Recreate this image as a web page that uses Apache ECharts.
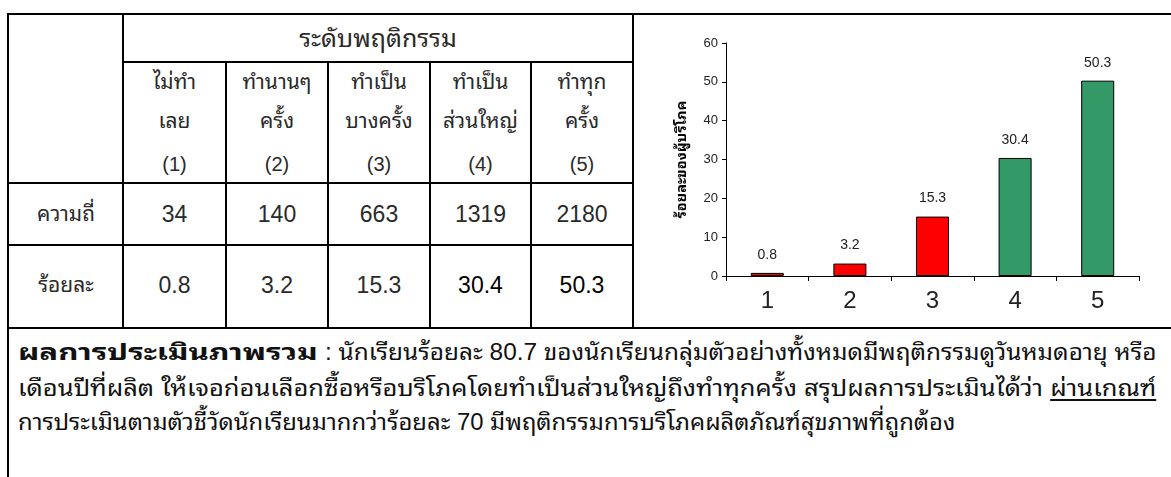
<!DOCTYPE html>
<html>
<head>
<meta charset="utf-8">
<script src="https://cdn.jsdelivr.net/npm/echarts@6/dist/echarts.min.js"></script>
<style>
  html, body { margin:0; padding:0; background:#fff; }
  body { width:1171px; height:477px; position:relative; overflow:hidden;
         font-family: "Liberation Sans", Arial, "Noto Sans Thai Looped", "Noto Serif Thai", Loma, Garuda, Sarabun, "Noto Sans Thai", "Noto Sans", sans-serif; color:#2a2a2a; }
  .ln { position:absolute; background:#000; }
  .t { position:absolute; transform:translate(-50%,-50%); white-space:nowrap; font-size:20px; line-height:1; font-weight:normal; }
  #chart { position:absolute; left:634px; top:16px; width:537px; height:312px; }
  .pl { position:absolute; white-space:nowrap; font-size:23px; line-height:1; color:#111; transform-origin:0 50%; }
  .pl u { text-decoration:underline; text-underline-offset:3px; }
</style>
</head>
<body>
<div id="chart"></div>
<script>
// ---- data ----
const categories = ["1", "2", "3", "4", "5"];
const headerTitle = "ระดับพฤติกรรม";
const levelLabels = [["ไม่ทำ","เลย","(1)"],["ทำนานๆ","ครั้ง","(2)"],["ทำเป็น","บางครั้ง","(3)"],["ทำเป็น","ส่วนใหญ่","(4)"],["ทำทุก","ครั้ง","(5)"]];
const rowLabels = ["ความถี่", "ร้อยละ"];
const frequency = [34, 140, 663, 1319, 2180];
const percent = [0.8, 3.2, 15.3, 30.4, 50.3];
const barColors = ["#FF0000", "#FF0000", "#FF0000", "#339966", "#339966"];
const yTicks = [0, 10, 20, 30, 40, 50, 60];
const yAxisName = "ร้อยละของผู้บริโภค";
const summaryBold = "ผลการประเมินภาพรวม";
const summaryLine1 = ": นักเรียนร้อยละ 80.7 ของนักเรียนกลุ่มตัวอย่างทั้งหมดมีพฤติกรรมดูวันหมดอายุ หรือ";
const summaryLine2 = "เดือนปีที่ผลิต ให้เจอก่อนเลือกซื้อหรือบริโภคโดยทำเป็นส่วนใหญ่ถึงทำทุกครั้ง สรุปผลการประเมินได้ว่า ";
const summaryUnder = "ผ่านเกณฑ์";
const summaryLine3 = "การประเมินตามตัวชี้วัดนักเรียนมากกว่าร้อยละ 70 มีพฤติกรรมการบริโภคผลิตภัณฑ์สุขภาพที่ถูกต้อง";

// ---- table ----
const colX = [8, 123, 226, 328, 430, 531, 633];
function line(x, y, w, h) {
  const d = document.createElement('div'); d.className = 'ln';
  d.style.left = x + 'px'; d.style.top = y + 'px'; d.style.width = w + 'px'; d.style.height = h + 'px';
  document.body.appendChild(d);
}
function text(s, x, y, extra) {
  const d = document.createElement('div'); d.className = 't'; d.textContent = s;
  d.style.left = x + 'px'; d.style.top = y + 'px';
  if (extra) Object.assign(d.style, extra);
  document.body.appendChild(d);
  return d;
}
line(8, 13, 1163, 2);            // top
line(8, 327, 1163, 2);           // under table
line(7, 13, 2, 464);             // left border
line(632, 13, 2, 316);           // table right
line(122, 13, 2, 316);           // label column
line(123, 61, 510, 2);           // under header title
line(7, 182, 626, 2);
line(7, 244, 626, 2);
for (let i = 2; i <= 5; i++) line(colX[i] - 1, 62, 2, 266);

text(headerTitle, (123 + 633) / 2, 38, {fontSize: '25px'});
const subY = [81, 120, 164];
levelLabels.forEach((arr, i) => {
  const cx = (colX[i + 1] + colX[i + 2]) / 2;
  arr.forEach((s, j) => text(s, cx, subY[j], {fontSize: j < 2 ? '21px' : '20px'}));
});
text(rowLabels[0], 66, 213, {fontSize: '21px'});
text(rowLabels[1], 66, 284, {fontSize: '21px'});
frequency.forEach((v, i) => text(String(v), (colX[i + 1] + colX[i + 2]) / 2, 214, {fontSize: '23px'}));
percent.forEach((v, i) => text(v.toFixed(1), (colX[i + 1] + colX[i + 2]) / 2, 285, Object.assign({fontSize: '23px'}, i >= 3 ? {color: '#000'} : {})));

// ---- paragraph ----
function seg(y, left, right, build) {
  const d = document.createElement('div'); d.className = 'pl';
  d.style.left = left + 'px'; d.style.top = y + 'px';
  build(d);
  document.body.appendChild(d);
  const h = d.offsetHeight, w = d.offsetWidth;
  d.style.top = (y - h / 2) + 'px';
  d.style.transform = 'scaleX(' + ((right - left) / w) + ')';
}
seg(352, 18, 318, d => { d.style.fontWeight = 'bold'; d.textContent = summaryBold; });
seg(352, 325, 1156, d => { d.textContent = summaryLine1; });
seg(388, 18, 1156, d => {
  d.appendChild(document.createTextNode(summaryLine2));
  const u = document.createElement('u'); u.textContent = summaryUnder; d.appendChild(u);
});
seg(422, 18, 955, d => { d.textContent = summaryLine3; });

// ---- chart ----
const FF = '"Liberation Sans", Arial, "Noto Sans Thai Looped", "Noto Serif Thai", Loma, Garuda, "Noto Sans Thai", sans-serif';
const chart = echarts.init(document.getElementById('chart'), null, {renderer: 'canvas'});
chart.setOption({
  animation: false,
  textStyle: {fontFamily: FF},
  grid: {left: 92, right: 32, top: 27, bottom: 52},
  xAxis: {
    type: 'category', data: categories,
    axisLine: {lineStyle: {color: '#000', width: 1}},
    axisTick: {show: true, length: 5, lineStyle: {color: '#000'}},
    axisLabel: {fontSize: 24, color: '#222', margin: 13, fontFamily: FF}
  },
  yAxis: {
    type: 'value', min: yTicks[0], max: yTicks[yTicks.length - 1], interval: 10,
    name: yAxisName, nameLocation: 'middle', nameGap: 37, nameRotate: 90,
    nameTextStyle: {fontSize: 14.5, fontWeight: 'bold', color: '#000', fontFamily: FF},
    axisLine: {show: true, lineStyle: {color: '#000', width: 1}},
    axisTick: {show: true, length: 4, lineStyle: {color: '#000'}},
    axisLabel: {fontSize: 13, color: '#222', margin: 8, fontFamily: FF},
    splitLine: {show: false}
  },
  series: [{
    type: 'bar', barWidth: '40%',
    data: percent.map((v, i) => ({value: v, itemStyle: {color: barColors[i]}})),
    itemStyle: {borderColor: '#000', borderWidth: 1},
    label: {show: true, position: 'top', distance: 11, fontSize: 14, color: '#222', fontFamily: FF}
  }]
});
</script>
</body>
</html>
